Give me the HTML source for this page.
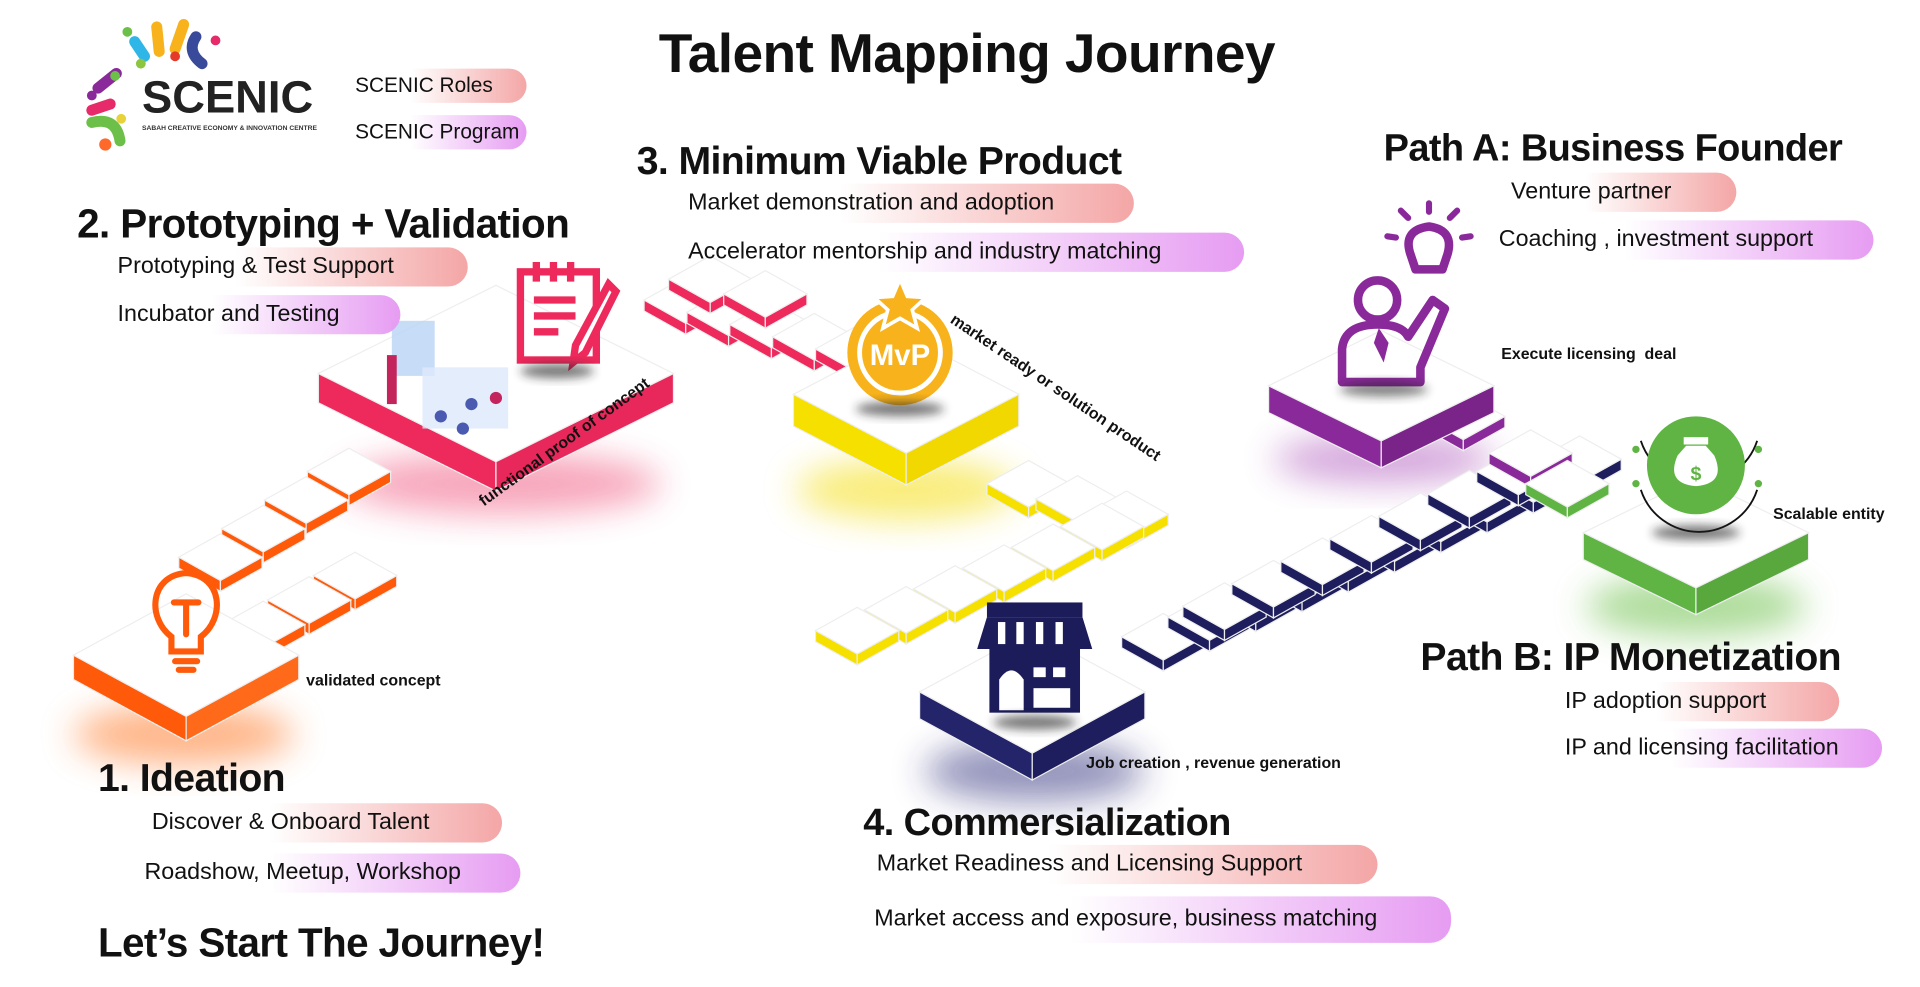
<!DOCTYPE html>
<html><head><meta charset="utf-8"><style>
html,body{margin:0;padding:0;background:#fff;width:1920px;height:986px;overflow:hidden}
#w{position:absolute;left:0;top:0;width:1568px;height:806px;transform:scale(1.2245);transform-origin:0 0;font-family:"Liberation Sans",sans-serif;color:#111}
.h{position:absolute;font-weight:bold;white-space:nowrap;letter-spacing:-0.5px}
.p{position:absolute;height:32px;line-height:32px;font-size:19px;white-space:nowrap;padding-left:6px;border-radius:0 17px 17px 0;box-sizing:border-box}
.r{background:linear-gradient(90deg,rgba(255,255,255,0) 35%,#f4a6a6 100%)}
.v{background:linear-gradient(90deg,rgba(255,255,255,0) 35%,#e69cf2 100%)}
.l{position:absolute;font-size:13px;font-weight:bold;white-space:nowrap}
svg{position:absolute;left:0;top:0}
</style></head><body><div id="w">
<svg width="1568" height="806" viewBox="0 0 1568 806">
<defs>
<filter id="b" x="-50%" y="-50%" width="200%" height="200%"><feGaussianBlur stdDeviation="14"/></filter>
<filter id="s" x="-50%" y="-50%" width="200%" height="200%"><feGaussianBlur stdDeviation="4"/></filter>
</defs>
<ellipse cx="150" cy="600" rx="90" ry="25" fill="#ff7a2a" opacity=".55" filter="url(#b)"/>
<ellipse cx="410" cy="395" rx="130" ry="25" fill="#ee3a6a" opacity=".45" filter="url(#b)"/>
<ellipse cx="740" cy="400" rx="90" ry="25" fill="#f5e020" opacity=".6" filter="url(#b)"/>
<ellipse cx="845" cy="630" rx="90" ry="25" fill="#2c2c7a" opacity=".5" filter="url(#b)"/>
<ellipse cx="1130" cy="375" rx="90" ry="20" fill="#a03ab0" opacity=".45" filter="url(#b)"/>
<ellipse cx="1385" cy="495" rx="90" ry="25" fill="#6cc04a" opacity=".55" filter="url(#b)"/>
<g id="blocks" stroke="#eee" stroke-width="1"></g>
</svg>
<svg width="1568" height="806" viewBox="0 0 1568 806" id="ic">
<g fill="none" stroke="#ff5a0a" stroke-width="5" stroke-linecap="round">
<path d="M140 520 C120 505 122 470 152 468 C182 470 184 505 164 520 L164 532 L140 532 Z"/>
<path d="M143 540 H161 M146 547 H158 M142 492 H162 M152 492 V518"/>
</g>
<g fill="none" stroke="#ee2a5c" stroke-width="6">
<rect x="425" y="222" width="62" height="72"/>
<path d="M436 245 H470 M436 258 H470 M436 271 H456"/>
<path d="M438 214 V230 M452 214 V230 M466 214 V230"/>
<path d="M497 232 L470 282 L468 296 L478 288 L503 238 Z" fill="#fff"/>
</g>
<ellipse cx="455" cy="303" rx="30" ry="6" fill="#222" opacity=".6" filter="url(#s)"/>
<rect x="320" y="262" width="35" height="45" fill="#b9d4f5" opacity=".8"/>
<rect x="345" y="300" width="70" height="50" fill="#dde9fb" opacity=".8"/>
<rect x="316" y="290" width="8" height="40" fill="#c3245c"/>
<circle cx="360" cy="340" r="5" fill="#4a5ab0"/><circle cx="385" cy="330" r="5" fill="#4a5ab0"/><circle cx="378" cy="350" r="5" fill="#4a5ab0"/><circle cx="405" cy="325" r="5" fill="#c3245c"/>
<circle cx="735" cy="288" r="43" fill="#f7b21c"/>
<circle cx="735" cy="288" r="33" fill="none" stroke="#fff" stroke-width="4"/>
<polygon points="735,228 741,242 756,243 745,253 749,268 735,260 721,268 725,253 714,243 729,242" fill="#f7b21c" stroke="#fff" stroke-width="3"/>
<text x="735" y="298" font-family="Liberation Sans" font-size="24" font-weight="bold" fill="#fff" text-anchor="middle">MvP</text>
<ellipse cx="735" cy="334" rx="36" ry="6" fill="#222" opacity=".6" filter="url(#s)"/>
<g fill="#1c1c5a">
<rect x="806" y="492" width="78" height="12"/>
<path d="M806 504 H884 L892 530 H798 Z"/>
<rect x="808" y="530" width="74" height="52"/>
</g>
<g fill="#fff"><rect x="815" y="508" width="6" height="18"/><rect x="830" y="508" width="6" height="18"/><rect x="846" y="508" width="6" height="18"/><rect x="862" y="508" width="6" height="18"/>
<path d="M816 580 V555 Q826 540 836 555 V580 Z"/><rect x="844" y="545" width="10" height="8"/><rect x="860" y="545" width="10" height="8"/><rect x="844" y="562" width="30" height="16"/></g>
<ellipse cx="845" cy="590" rx="34" ry="6" fill="#222" opacity=".6" filter="url(#s)"/>
<g fill="none" stroke="#8a2a9a" stroke-width="7" stroke-linejoin="round">
<circle cx="1125" cy="245" r="16"/>
<path d="M1096 312 V285 Q1098 265 1125 265 Q1145 265 1150 275 L1170 245 L1180 252 L1160 300 V312 Z"/>
<path d="M1152 208 Q1145 188 1167 185 Q1188 188 1182 208 L1178 220 H1156 Z"/>
</g>
<path d="M1126 268 L1122 280 L1130 296 L1134 280 Z" fill="#8a2a9a"/>
<g stroke="#8a2a9a" stroke-width="5" stroke-linecap="round"><path d="M1167 173 V166 M1150 178 L1144 172 M1184 178 L1190 172 M1140 194 L1133 193 M1194 194 L1201 193"/></g>
<ellipse cx="1130" cy="318" rx="36" ry="6" fill="#222" opacity=".55" filter="url(#s)"/>
<path d="M1340 360 A50 50 0 0 0 1435 360 M1340 400 A50 50 0 0 0 1435 400" fill="none" stroke="#111" stroke-width="1.5"/>
<circle cx="1385" cy="380" r="40" fill="#5fb444"/>
<path d="M1370 372 Q1360 395 1385 397 Q1410 395 1400 372 L1393 364 H1377 Z" fill="#fff"/>
<rect x="1375" y="357" width="20" height="6" fill="#fff"/>
<text x="1385" y="392" font-family="Liberation Sans" font-size="16" font-weight="bold" fill="#5fb444" text-anchor="middle">$</text>
<circle cx="1336" cy="367" r="3" fill="#5fb444"/><circle cx="1436" cy="367" r="3" fill="#5fb444"/><circle cx="1336" cy="395" r="3" fill="#5fb444"/><circle cx="1436" cy="395" r="3" fill="#5fb444"/>
<ellipse cx="1385" cy="435" rx="36" ry="6" fill="#222" opacity=".6" filter="url(#s)"/>
<g stroke-linecap="round" fill="none" stroke-width="9">
<path d="M110 34 L118 46" stroke="#2fb6e8"/><path d="M128 22 L130 42" stroke="#f7b21c"/><path d="M150 20 L143 40" stroke="#f7b21c"/>
<path d="M160 30 Q152 42 165 52" stroke="#3a4a9a"/><path d="M95 60 L80 72" stroke="#8a2a9a"/><path d="M90 85 L75 90" stroke="#e62a6a"/>
<path d="M75 100 Q95 95 98 115" stroke="#6cc04a"/>
</g>
<g><circle cx="104" cy="26" r="4" fill="#6cc04a"/><circle cx="143" cy="46" r="4" fill="#e53a2a"/><circle cx="176" cy="33" r="4" fill="#e62a6a"/><circle cx="115" cy="52" r="4" fill="#8cc63e"/><circle cx="94" cy="62" r="4" fill="#6cc04a"/><circle cx="75" cy="78" r="4" fill="#8a2a9a"/><circle cx="99" cy="97" r="4" fill="#e8d23a"/><circle cx="86" cy="118" r="5" fill="#ff6a2a"/></g>
<text x="116" y="92" font-family="Liberation Sans" font-size="37" font-weight="bold" fill="#222">SCENIC</text>
<text x="116" y="106" font-family="Liberation Sans" font-size="5.5" font-weight="bold" fill="#333">SABAH CREATIVE ECONOMY &amp; INNOVATION CENTRE</text>
</svg>

<div class="h" style="left:538px;top:18px;font-size:45px">Talent Mapping Journey</div>
<div class="p r" style="left:284px;top:56px;width:146px;font-size:17px;height:28px;line-height:28px">SCENIC Roles</div>
<div class="p v" style="left:284px;top:94px;width:146px;font-size:17px;height:28px;line-height:28px">SCENIC Program</div>

<div class="h" style="left:520px;top:113px;font-size:32px">3. Minimum Viable Product</div>
<div class="p r" style="left:556px;top:150px;width:370px">Market demonstration and adoption</div>
<div class="p v" style="left:556px;top:190px;width:460px">Accelerator mentorship and industry matching</div>

<div class="h" style="left:63px;top:164px;font-size:33px">2. Prototyping + Validation</div>
<div class="p r" style="left:90px;top:202px;width:292px">Prototyping &amp; Test Support</div>
<div class="p v" style="left:90px;top:241px;width:237px">Incubator and Testing</div>

<div class="h" style="left:1130px;top:103px;font-size:31px">Path A: Business Founder</div>
<div class="p r" style="left:1228px;top:141px;width:190px">Venture partner</div>
<div class="p v" style="left:1218px;top:180px;width:312px">Coaching , investment support</div>

<div class="h" style="left:1160px;top:518px;font-size:32px">Path B: IP Monetization</div>
<div class="p r" style="left:1272px;top:557px;width:230px">IP adoption support</div>
<div class="p v" style="left:1272px;top:595px;width:265px">IP and licensing facilitation</div>

<div class="h" style="left:705px;top:654px;font-size:31px">4. Commersialization</div>
<div class="p r" style="left:710px;top:690px;width:415px">Market Readiness and Licensing Support</div>
<div class="p v" style="left:708px;top:732px;width:477px;height:38px;line-height:38px">Market access and exposure, business matching</div>

<div class="h" style="left:80px;top:617px;font-size:32px">1. Ideation</div>
<div class="p r" style="left:118px;top:656px;width:292px">Discover &amp; Onboard Talent</div>
<div class="p v" style="left:112px;top:697px;width:313px">Roadshow, Meetup, Workshop</div>

<div class="h" style="left:80px;top:751px;font-size:33px">Let’s Start The Journey!</div>

<div class="l" style="left:250px;top:548px">validated concept</div>
<div class="l" style="left:388px;top:404px;transform:rotate(-36deg);transform-origin:0 0;font-size:13px">functional proof of concept</div>
<div class="l" style="left:782px;top:253px;transform:rotate(34deg);transform-origin:0 0;font-size:13px">market ready or solution product</div>
<div class="l" style="left:1226px;top:281px">Execute licensing &nbsp;deal</div>
<div class="l" style="left:1448px;top:412px">Scalable entity</div>
<div class="l" style="left:887px;top:615px">Job creation , revenue generation</div>
</div>
<script>
var g=document.getElementById('blocks'),NS='http://www.w3.org/2000/svg';
function poly(pts,fill){var p=document.createElementNS(NS,'polygon');p.setAttribute('points',pts.map(function(a){return a.join(',')}).join(' '));p.setAttribute('fill',fill);g.appendChild(p);}
function blk(cx,cy,w,h,t,c,c2){
poly([[cx-w,cy],[cx,cy+h],[cx,cy+h+t],[cx-w,cy+t]],c);
poly([[cx+w,cy],[cx,cy+h],[cx,cy+h+t],[cx+w,cy+t]],c2||c);
poly([[cx-w,cy],[cx,cy-h],[cx+w,cy],[cx,cy+h]],'#fff');}
function strip(x1,y1,x2,y2,n,c){for(var i=0;i<n;i++){var f=n==1?0:i/(n-1);blk(x1+(x2-x1)*f,y1+(y2-y1)*f,34,19,9,c);}}
strip(285,385,180,455,4,'#ff5a0a');strip(290,470,215,510,3,'#ff5a0a');
blk(152,535,92,50,20,'#ff5a0a','#ff6a1a');
strip(560,245,700,285,5,'#ee2a5c');strip(580,228,625,240,2,'#ee2a5c');
blk(405,305,145,72,24,'#ee2a5c','#e8285a');
strip(840,395,920,420,3,'#f5e000');strip(900,430,700,515,6,'#f5e000');
blk(740,322,92,48,26,'#f5e000','#f0d800');
strip(950,520,1290,375,10,'#1e1e5e');strip(1000,495,1240,385,7,'#1e1e5e');
blk(843,565,92,50,22,'#24246a','#1e1e5e');
strip(1195,340,1250,370,2,'#8a2a9a');
blk(1128,315,92,45,22,'#8a2a9a','#7a248a');
strip(1280,395,1320,410,1,'#5fb444');
blk(1385,435,92,45,22,'#5fb444','#58a83e');
</script>
</body></html>
